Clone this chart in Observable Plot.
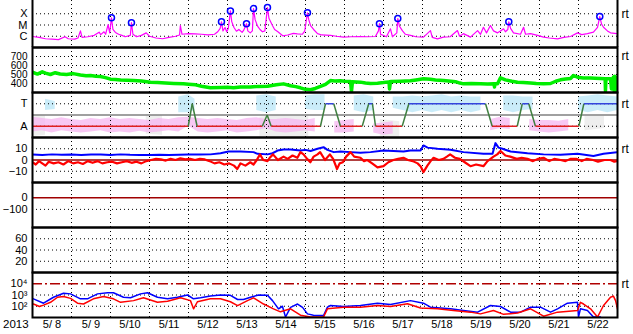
<!DOCTYPE html>
<html><head><meta charset="utf-8">
<script src="https://cdn.jsdelivr.net/npm/d3@7"></script>
<script src="https://cdn.jsdelivr.net/npm/@observablehq/plot@0.6"></script>
<style>
body{margin:0;background:#fff;}
#c{position:relative;width:633px;height:334px;font-family:"Liberation Sans",Arial,sans-serif;overflow:hidden;}
#c svg{position:absolute;left:0;overflow:visible;background:transparent;}
.yr{position:absolute;left:3px;top:318px;font-size:11.5px;color:#000;}
</style></head><body><div id="c"><div class="yr">2013</div></div>
<script>
// ---------- DATA (hours since 2013-05-08 00:00 UT) ----------
const dayLabels = ["5/ 8","5/ 9","5/10","5/11","5/12","5/13","5/14","5/15","5/16","5/17","5/18","5/19","5/20","5/21","5/22"];

const xray = [[0,9.5e-7],[4,8e-7],[8,6e-7],[12,5.5e-7],[16,5e-7],[20,9e-7],[22,6e-7],[26,5.5e-7],[28,7e-7],[29.5,3e-6],[30.5,8e-7],[34,9e-7],[38,1.2e-6],[41,2.3e-6],[42,1.4e-6],[44,2.5e-6],[45,1.5e-6],[46.5,1.1e-5],[47.5,2e-6],[48.6,4.4e-5],[49.5,4e-6],[51,2.2e-6],[53,1.5e-6],[55,1.2e-6],[57,9e-7],[60.2,1.2e-6],[60.9,1.6e-5],[61.8,1.5e-6],[64,9e-7],[67,1.2e-6],[70,2e-6],[72,1e-6],[76,7e-7],[80,6e-7],[84,8e-7],[88,1e-6],[90.5,1.3e-6],[91,9e-6],[92,1.5e-6],[96,1.7e-6],[100,1.6e-6],[104,1.5e-6],[108,1.3e-6],[112,1.5e-6],[114,2.5e-6],[115.5,5e-6],[116.3,1.9e-5],[117.2,3e-6],[118.5,6e-6],[119.5,2.5e-6],[120.5,5e-6],[121.8,1.8e-4],[122.6,2e-5],[124,6e-6],[125.5,2.8e-6],[127,4e-6],[129,2.2e-6],[130,3.5e-6],[131.7,1.3e-5],[132.5,3e-6],[134,2e-6],[135.3,3e-6],[136,2.9e-4],[137,3e-5],[138.5,8e-6],[140,4e-6],[141.5,2.5e-6],[143,3e-6],[144.6,3.6e-4],[145.5,4e-5],[147.5,1e-5],[149,4e-6],[151,2.5e-6],[154,1.1e-6],[157,1.3e-6],[160.6,1.8e-6],[163,1.6e-6],[166,1.5e-6],[167.5,2.8e-6],[169.2,1.2e-4],[170,3e-5],[171.1,9e-6],[173,4e-6],[175.4,1.7e-6],[178,1.3e-6],[183.4,1.2e-6],[187,1e-6],[191.4,8.3e-7],[196,9e-7],[201.8,9.5e-7],[206,9e-7],[211,9.5e-7],[212.9,3e-6],[213.5,1.3e-5],[214.2,1.5e-6],[217.8,9e-7],[220.3,4.6e-6],[221.5,9e-7],[224.2,2e-6],[224.8,3.8e-5],[225.8,8e-6],[227.7,3e-6],[229.5,1.5e-6],[232.6,1.2e-6],[236,9e-7],[240.6,8.3e-7],[244.9,3.2e-6],[246,8e-7],[249.2,5.9e-7],[252.9,8.3e-7],[257,9e-7],[261.5,3.2e-6],[262.8,1e-6],[265.2,1.7e-6],[269.5,8.3e-7],[273.9,3.2e-6],[275.7,1.5e-6],[277.5,6.3e-6],[279.4,2e-6],[281.8,9e-6],[283.7,3e-6],[286.2,2e-6],[288,3e-6],[289.9,4.6e-6],[291,2.5e-6],[292.5,4e-6],[293.1,1.9e-5],[294.2,5e-6],[296,2e-6],[300.3,1.5e-6],[302.2,6.3e-6],[303.4,1.5e-6],[306.5,1.7e-6],[310.8,1.2e-6],[314.5,8.3e-7],[318,7e-7],[323.1,5.9e-7],[327,8e-7],[331.1,9.5e-7],[335.4,2e-6],[338,1.4e-6],[341.5,1.7e-6],[345.2,2.3e-6],[347.7,6.3e-6],[349.1,5.7e-5],[350.2,1.2e-5],[351.4,6.3e-6],[353.8,3e-6],[355.7,2e-6],[360,1.7e-6]];

const flares = [[48.6,4.4e-5],[60.9,1.6e-5],[116.3,1.9e-5],[121.8,1.8e-4],[131.7,1.3e-5],[136,2.9e-4],[144.6,3.6e-4],[169.2,1.2e-4],[213.5,1.3e-5],[224.8,3.8e-5],[293.1,1.9e-5],[349.1,5.7e-5]];

const wind = [[0,525],[3,505],[6,530],[8,515],[11,500],[14,520],[17,505],[21,500],[25,510],[29.5,495],[33,485],[35.7,490],[39,480],[41.8,478],[44.9,465],[48,448],[51,445],[54.2,440],[58,437],[62.2,433],[67,428],[72.6,415],[77,410],[81.8,405],[87,400],[92.9,396],[96,392],[100.3,385],[104,370],[109.5,352],[115.7,355],[120,358],[123.7,352],[128,360],[134.2,360],[139,368],[144.6,370],[150,385],[154.5,396],[158.8,375],[162,365],[164.9,352],[168,335],[171.1,330],[174,345],[177.2,367],[180.3,390],[183.4,433],[186,428],[189.5,430],[192,425],[195.7,422],[196.3,314],[196.9,420],[201.8,415],[204.9,405],[208,400],[212.3,404],[216,410],[219.4,418],[219.7,340],[220.3,422],[226.5,425],[232.6,430],[236,440],[240.6,452],[244.9,448],[248,440],[252.9,433],[256,428],[260.3,420],[263,405],[265.2,396],[270,400],[275.7,398],[280,395],[284,396],[284.3,360],[284.6,398],[286.2,398],[288,463],[291,440],[295,425],[298.5,415],[302,410],[306.5,405],[310,400],[314.5,396],[318.8,400],[322,425],[324.9,441],[328,450],[331.1,455],[332.9,489],[335.4,470],[339,462],[343.4,460],[346,458],[349.5,455],[352.4,452],[352.6,320],[352.9,452],[355.7,452],[356.3,340],[356.9,450],[357.5,470],[357.9,320],[358.3,480],[358.7,310],[359.1,470],[359.5,320],[360,470]];

// status: 0 = A, 1 = T
const status = [[0,0],[95.8,0],[98.3,1],[101.3,0],[141.4,0],[144.4,0.5],[146.9,0],[177.2,0],[180.3,1],[185.4,1],[189.5,0],[202.9,0],[206.9,1],[209.2,1],[211.1,0],[227.5,0],[231.6,1],[278.8,1],[282.9,0],[298.3,0],[301.4,1],[305.4,1],[309.5,0],[336.2,0],[339.3,1],[360,1]];

const pinkBand = [[0,-0.26,0.4],[6,-0.2,0.34],[12,-0.3,0.3],[18,-0.2,0.38],[24,-0.26,0.3],[30,-0.3,0.26],[36,-0.26,0.34],[42,-0.2,0.3],[48,-0.3,0.38],[54,-0.26,0.3],[60,-0.3,0.34],[66,-0.22,0.3],[72,-0.3,0.26],[78,-0.26,0.34],[84,-0.2,0.3],[90,-0.26,0.38],[96,0,0.4],[102,-0.26,0.34],[108,-0.3,0.3],[114,-0.26,0.34],[120,-0.2,0.3],[126,-0.3,0.26],[132,-0.26,0.34],[138,-0.2,0.38],[144,-0.1,0.3],[150,-0.26,0.3],[156,-0.3,0.34],[162,-0.26,0.3],[168,-0.2,0.26],[174,-0.26,0.34],[180,null,null],[186,-0.3,0.2],[192,-0.3,0.26],[198,-0.26,0.3],[204,null,null],[210,-0.3,0.1],[216,-0.4,0.14],[222,-0.34,0.2],[228,null,null],[282,-0.2,0.3],[288,-0.1,0.4],[294,-0.14,0.34],[300,null,null],[306,-0.2,0.3],[312,-0.26,0.26],[318,-0.3,0.26],[324,-0.26,0.22],[330,-0.2,0.3],[336,null,null]];

const cyanBand = [[8,0.7,1.2],[14,0.75,1.1],[16,null,null],[90,0.6,1.3],[96,0.6,1.4],[100,0.7,1.2],[102,null,null],[138,0.7,1.35],[144,0.6,1.4],[150,0.7,1.3],[153,null,null],[168,0.74,1.34],[174,0.7,1.4],[180,0.7,1.4],[184,null,null],[198,0.7,1.35],[204,0.6,1.4],[210,0.7,1.3],[212,null,null],[222,0.8,1.3],[228,0.7,1.3],[234,0.6,1.34],[240,0.7,1.3],[246,0.6,1.34],[252,0.7,1.4],[258,0.6,1.3],[264,0.7,1.34],[270,0.6,1.3],[276,0.7,1.3],[280,null,null],[290,0.7,1.34],[296,0.6,1.34],[302,0.7,1.3],[308,0.74,1.3],[312,null,null],[336,0.7,1.3],[342,0.6,1.34],[348,0.7,1.4],[354,0.6,1.34],[360,0.7,1.3]];

const grayBand = [[0,-0.45,0.5],[8,-0.4,0.48],[14,null,null],[70,-0.35,0.5],[80,-0.4,0.48],[86,null,null],[140,-0.48,0.4],[150,-0.45,0.48],[160,-0.48,0.45],[170,-0.45,0.5],[176,null,null],[214,-0.48,0.3],[226,-0.48,0.2],[230,null,null],[285,-0.35,0.48],[296,null,null],[340,-0.2,0.45],[352,-0.1,0.45],[358,null,null]];

const bt = [[0,4.8],[6,4.5],[12,5],[18,4.6],[24,4.8],[30,4.4],[36,4.8],[42,4.8],[48,4.5],[54,5],[60,4.6],[66,4.4],[72.6,4.5],[78,4.7],[84,4.4],[90,4.6],[96,4.8],[103.4,4.8],[109.5,5],[115.7,6],[120.6,7.5],[128,7.5],[136,7],[138.5,5.5],[144.6,5],[147.7,6],[150.8,8.4],[154.5,9.3],[158.8,9.3],[164.9,8.4],[168,9],[171.1,8],[175.4,10],[179.1,11.4],[181.5,9],[185.4,7],[189.5,7.5],[195.7,7],[201.8,6.5],[208,7],[216,8.4],[228.3,7.5],[232.6,8.4],[238.8,8.5],[240.6,12.9],[243.1,11],[249.2,10],[257.2,9.2],[265.2,7],[277.5,5.6],[283.1,5.6],[284.9,15],[286.8,11],[289.2,10],[294.2,7.5],[304.6,6],[314.5,5],[324.9,4.6],[335.4,5.5],[345.2,3.5],[351.4,5.5],[360,7]];

const bz = [[0,-2],[2,-4],[4,-1],[6,-3],[8,-5],[10,-1.5],[13,-3],[16,-2],[19,-4],[22,-1],[25,-3],[28,-2],[31,-3.5],[34,-1],[37,-2.5],[40,-1],[43,-3],[46,-2],[49,-1.5],[52,-3],[55,-2],[58,-1],[61,-2.5],[64,-1.5],[67,-3],[70,-1],[73,0],[76,1],[79,0.5],[82,-0.5],[85,1],[88,0],[91,1.5],[94,0.5],[97,1],[100,0],[103,1],[106,0.5],[109,-1],[112,-3],[115,-2],[118,-4],[121,-3],[124,-5],[126,-8],[128,-3],[131,-5],[134,-2],[136,-4],[138,0],[140,5],[142,0],[144.6,-1],[146,2],[148,5],[151,0],[154.5,3],[157,1],[160,4],[163,2],[164.9,7],[166.8,5],[169,1],[171,-2],[173,3],[175.4,5],[177,7],[180,0],[183,5],[185,1],[187.4,-8],[189,-3],[191,-2],[193,3],[195.7,7],[198,3],[201.8,2],[204,-1],[206,0],[209,-3],[212.3,-6.6],[216,-5.5],[219,-2],[222,0],[225,1],[228.3,2],[231,0],[234,-1],[237,-3],[239,-6],[240.6,-10.8],[243,-5],[245,-1],[246.8,2],[250,0],[252.9,1],[255,3],[257,5],[260,2],[263,1],[266,-2],[269.5,-5.5],[273,-4],[277.5,-5.5],[280,-1],[283.7,3],[286,5],[288,8],[291,4],[294,3],[298,1],[301,2],[304.6,1],[308,-1],[311,1],[314.5,2],[318,-1],[321,1],[325,0],[328,-1],[331,1],[335,1],[338,-1],[341,1],[345,0],[348,-1.5],[352,0],[355.7,0],[358,-1.5],[360,-1]];

const eBlue = [[0.6,457],[6.8,186],[12.9,631],[19.1,1445],[23.4,1259],[29.5,457],[33.8,457],[40,1259],[46.2,1585],[49.8,1585],[56,631],[60.3,562],[66.5,1259],[70.8,1585],[76.9,631],[83.1,457],[89.2,631],[95.4,1000],[99.1,457],[103.4,562],[109.5,832],[115.7,1000],[121.8,933],[126.2,398],[129.8,398],[134.2,631],[139.1,1000],[144.6,933],[147.7,316],[151.4,59],[153.8,100],[155.7,11],[158.8,79],[163.1,158],[166.2,79],[169.2,21],[172.9,16],[179.1,15],[181.5,83],[183.4,117],[191.4,95],[201.8,117],[212.3,186],[220.3,141],[232.6,316],[240.6,186],[244.9,83],[257.2,59],[265.2,42],[273.9,30],[281.8,117],[288,95],[294.2,30],[300.3,30],[306.5,83],[312.6,83],[318.8,30],[323.1,59],[329.2,186],[335.4,224],[336,11],[337.2,59],[341.5,42],[345.2,11],[349.5,11]];

const eRed = [[0.6,158],[4.3,95],[6.8,126],[11.1,224],[15.4,631],[19.1,741],[23.4,500],[27.7,186],[31.4,158],[37.5,457],[43.7,741],[49.8,457],[54.2,224],[62.2,316],[68.3,562],[76.9,224],[83.1,275],[91.1,562],[97.2,316],[99.1,59],[101.5,251],[109.5,457],[115.7,457],[121.8,251],[126.2,112],[132.3,316],[136,562],[142.2,158],[148.3,59],[152.6,32],[158.8,59],[164.9,16],[171.1,11],[179.1,11],[181.5,59],[191.4,83],[201.8,83],[212.3,117],[220.3,95],[230.8,166],[238.8,71],[249.2,59],[259,42],[269.5,30],[275.7,21],[283.7,42],[289.9,19],[298.5,25],[306.5,59],[314.5,13],[323.1,30],[335.4,42],[337.2,224],[339.1,158],[343.4,59],[347.7,11],[351.4,117],[355.7,631],[357.5,794],[358.8,316],[360,59]];

// ---------- HELPERS ----------
const T0 = Date.UTC(2013, 4, 8);
const hr = h => new Date(T0 + h * 3600e3);
const xDomain = [hr(0), hr(24 * dayLabels.length)];
const dayBounds = dayLabels.slice(1).map((_, i) => hr(24 * (i + 1)));
const dayNoons = dayLabels.map((_, i) => hr(24 * i + 12));
const FONT = '"Liberation Sans", Arial, sans-serif';
const dot = "1,3";
const root = document.getElementById("c");
const X = d => hr(d[0]);
const Y = d => d[1];

function panel(top, height, y, marks, extra = {}) {
  const svg = Plot.plot({
    width: 633, height,
    marginLeft: 32, marginRight: 16, marginTop: 0, marginBottom: extra.mb || 0,
    x: extra.x || {type: "utc", domain: xDomain, axis: null},
    y: {tickSize: 0, tickPadding: 5, label: null, ...y},
    style: {fontFamily: FONT, fontSize: extra.fs || "11px", color: "#000", background: "transparent", overflow: "visible"},
    marks
  });
  svg.style.top = top + "px";
  root.appendChild(svg);
}
const rt = (yv) => Plot.text([yv], {x: () => xDomain[1], y: d => d, text: () => "rt", dx: 4, textAnchor: "start", fontSize: 12, fill: "#000"});
const vgrid = () => Plot.ruleX(dayBounds, {stroke: "#000", strokeDasharray: dot});
const hgrid = (vals) => Plot.ruleY(vals, {stroke: "#000", strokeDasharray: dot});
const frame = () => Plot.frame({stroke: "#000", strokeWidth: 2});

// ---------- PANEL 1: X-ray ----------
const xrTop = Math.pow(10, -3 + 2 / 11.25);
panel(0, 47, {type: "log", domain: [1e-7, xrTop], ticks: [1e-6, 1e-5, 1e-4],
  tickFormat: d => ({"-4": "X", "-5": "M", "-6": "C"})[Math.round(Math.log10(d))] || ""}, [
  vgrid(), hgrid([1e-6, 1e-5, 1e-4]),
  Plot.line(xray, {x: X, y: Y, stroke: "#ff00ff", strokeWidth: 1.2, clip: true}),
  Plot.dot(flares, {x: X, y: Y, r: 3, stroke: "#0000ff", strokeWidth: 1.5, fill: "none"}),
  Plot.ruleX(xDomain, {stroke: "#000", strokeWidth: 2}),
  Plot.ruleY([1e-7], {stroke: "#000", strokeWidth: 2}),
  rt(1e-4)
]);

// ---------- PANEL 2: solar wind ----------
panel(47, 45, {domain: [300, 800], ticks: [400, 500, 600, 700]}, [
  vgrid(), hgrid([400, 500, 600, 700]),
  Plot.line(wind, {x: X, y: Y, stroke: "#00ee00", strokeWidth: 3.5, clip: true}),
  frame(), rt(700)
], {fs: "10px"});

// ---------- PANEL 3: T / A ----------
const segs = status.slice(1).map((d, i) => ({a: status[i], b: d}));
const segColor = s => (s.a[1] === 0 && s.b[1] === 0) ? "#e02020" : (s.a[1] === 1 && s.b[1] === 1) ? "#3344dd" : "#3f7f3f";
panel(92, 45, {domain: [-0.5, 1.5], ticks: [0, 1], tickFormat: d => d === 1 ? "T" : d === 0 ? "A" : ""}, [
  Plot.areaY(grayBand, {x: X, y1: d => d[1], y2: d => d[2], fill: "#dddddd", fillOpacity: 0.5, clip: true}),
  Plot.areaY(pinkBand, {x: X, y1: d => d[1], y2: d => d[2], fill: "#f5b6f0", fillOpacity: 0.75, clip: true}),
  Plot.areaY(cyanBand, {x: X, y1: d => d[1], y2: d => d[2], fill: "#b4e4f6", fillOpacity: 0.7, clip: true}),
  vgrid(), hgrid([0, 1]),
  Plot.ruleY([0.5], {stroke: "#808080", strokeWidth: 1.5}),
  Plot.link(segs, {x1: s => hr(s.a[0]), y1: s => s.a[1], x2: s => hr(s.b[0]), y2: s => s.b[1], stroke: segColor, strokeWidth: 1.5}),
  frame(), rt(1)
]);

// ---------- PANEL 4: Bt / Bz ----------
panel(137, 45, {domain: [-20, 20], ticks: [10, 0, -10]}, [
  vgrid(), hgrid([10, -10]),
  Plot.ruleY([0], {stroke: "#990000", strokeWidth: 1.5}),
  Plot.line(bt, {x: X, y: Y, stroke: "#0000ff", strokeWidth: 2, clip: true}),
  Plot.line(bz, {x: X, y: Y, stroke: "#ff0000", strokeWidth: 2.2, clip: true}),
  frame(), rt(10)
]);

// ---------- PANEL 5: Dst ----------
panel(182, 45, {domain: [-255, 130], ticks: [0, -100]}, [
  vgrid(), hgrid([-100]),
  Plot.ruleY([0], {stroke: "#a00000", strokeWidth: 1.5}),
  frame()
]);

// ---------- PANEL 6 ----------
panel(227, 45, {domain: [0, 80], ticks: [20, 40, 60]}, [
  vgrid(), hgrid([20, 40, 60]),
  frame()
]);

// ---------- PANEL 7: electrons ----------
const sup = {2: "²", 3: "³", 4: "⁴"};
panel(272, 62, {type: "log", domain: [10, 1e5], ticks: [100, 1000, 10000],
  tickFormat: d => "10" + (sup[Math.round(Math.log10(d))] || "")}, [
  vgrid(), hgrid([100, 1000]),
  Plot.ruleY([1e4], {stroke: "#b00000", strokeWidth: 1.5, strokeDasharray: "10,3,2,3"}),
  Plot.line(eBlue, {x: X, y: Y, stroke: "#0000ff", strokeWidth: 1.5, clip: true}),
  Plot.line(eRed, {x: X, y: Y, stroke: "#ff0000", strokeWidth: 1.5, clip: true}),
  frame(), rt(1e4)
], {mb: 17, x: {type: "utc", domain: xDomain, ticks: dayNoons, tickSize: 0, tickPadding: 3, label: null,
  tickFormat: d => dayLabels[Math.floor((d - T0) / 864e5)]}});
</script>
</body></html>
